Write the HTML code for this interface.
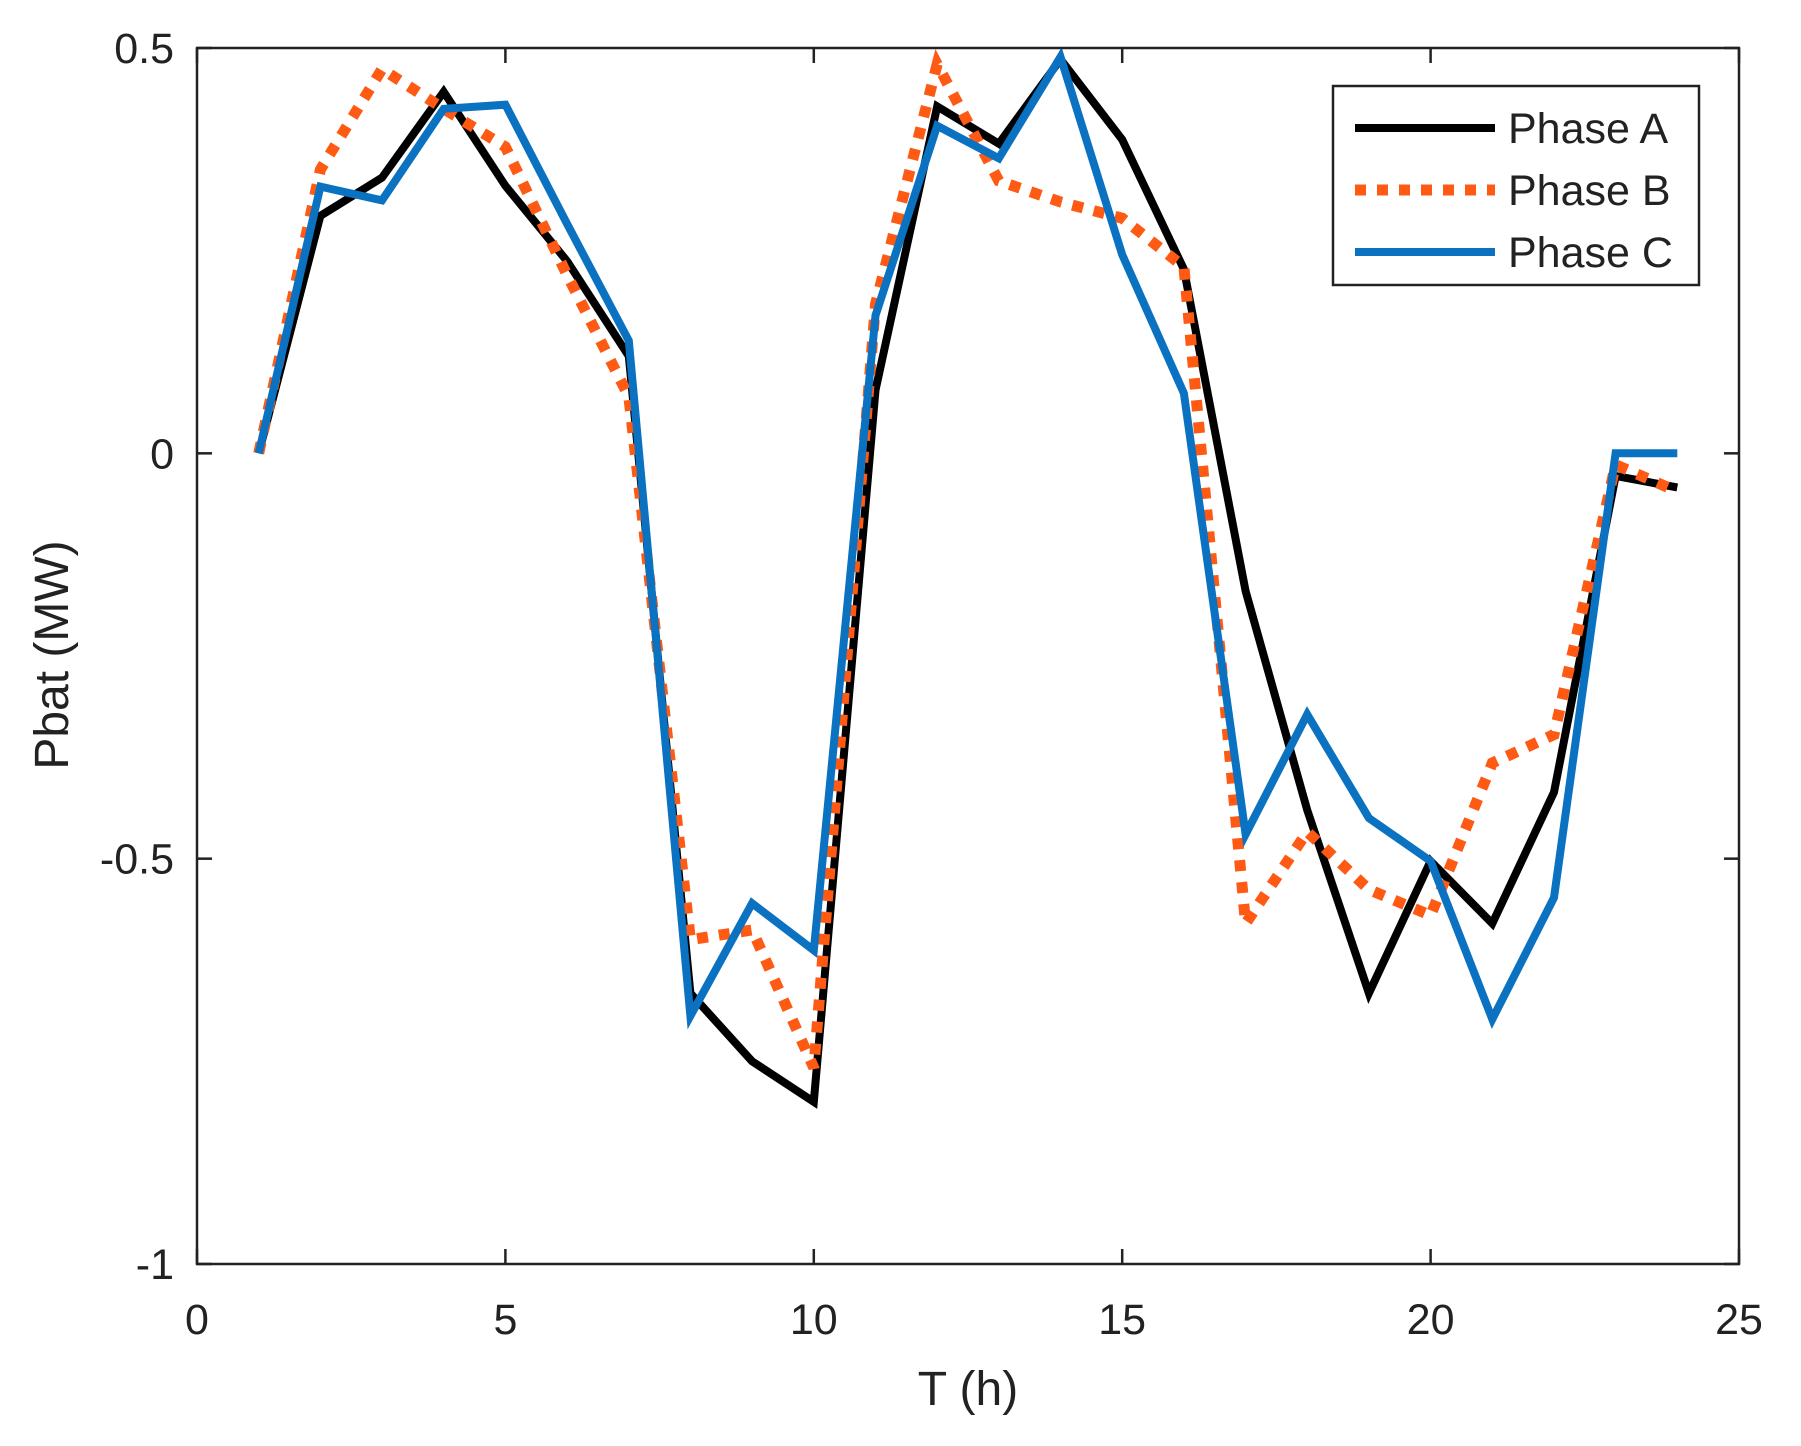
<!DOCTYPE html>
<html><head><meta charset="utf-8"><style>
html,body{margin:0;padding:0;background:#fff;}
svg{display:block;font-family:"Liberation Sans",Arial,sans-serif;}
</style></head><body>
<svg id="chart" width="1801" height="1446" viewBox="0 0 1801 1446" xmlns="http://www.w3.org/2000/svg">
<rect x="0" y="0" width="1801" height="1446" fill="#fff"/>
<g id="plot"></g>
</svg>
<script>
const hours=[1,2,3,4,5,6,7,8,9,10,11,12,13,14,15,16,17,18,19,20,21,22,23,24];
const phaseA=[0,0.293,0.34,0.446,0.33,0.237,0.12,-0.666,-0.75,-0.80,0.078,0.428,0.382,0.486,0.387,0.227,-0.17,-0.44,-0.666,-0.503,-0.58,-0.418,-0.028,-0.042];
const phaseB=[0,0.35,0.474,0.425,0.378,0.22,0.07,-0.60,-0.588,-0.758,0.184,0.48,0.336,0.31,0.29,0.23,-0.58,-0.467,-0.538,-0.57,-0.382,-0.347,-0.014,-0.047];
const phaseC=[0,0.329,0.312,0.425,0.43,0.283,0.139,-0.694,-0.555,-0.613,0.17,0.404,0.364,0.489,0.245,0.074,-0.47,-0.322,-0.45,-0.503,-0.698,-0.548,0,0];
const xTicks=[0,5,10,15,20,25];
const yTicks=[0.5,0,-0.5,-1];
const yTickLabels=["0.5","0","-0.5","-1"];
const seriesNames=["Phase A","Phase B","Phase C"];

const L=197,R=1739,T=48,B=1264;
const xs=v=>L+(v-0)/(25-0)*(R-L);
const ys=v=>T+(0.5-v)/(0.5-(-1))*(B-T);
const NS="http://www.w3.org/2000/svg";
const g=document.getElementById('plot');
function mk(tag,attrs,parent){const e=document.createElementNS(NS,tag);for(const k in attrs)e.setAttribute(k,attrs[k]);(parent||g).appendChild(e);return e;}

const styles=[{c:"#000000",d:null,w:8},{c:"#ff5a14",d:"11 11",w:11},{c:"#0a72c0",d:null,w:8}];
const data=[phaseA,phaseB,phaseC];
const names=["phase-a-line","phase-b-line","phase-c-line"];
data.forEach((s,i)=>{
  const pts=s.map((v,j)=>xs(hours[j]).toFixed(1)+","+ys(v).toFixed(1)).join(" ");
  const a={points:pts,fill:"none",stroke:styles[i].c,"stroke-width":styles[i].w,"stroke-linejoin":"miter"};
  if(styles[i].d)a["stroke-dasharray"]=styles[i].d;
  const p=mk('polyline',a);
  
  
});

const box=mk('rect',{x:L,y:T,width:R-L,height:B-T,fill:"none",stroke:"#222","stroke-width":2.5});



xTicks.forEach(t=>{
  const x=xs(t);
  mk('line',{x1:x,y1:B,x2:x,y2:B-15,stroke:"#222","stroke-width":2.5});
  mk('line',{x1:x,y1:T,x2:x,y2:T+15,stroke:"#222","stroke-width":2.5});
  const tx=mk('text',{x:x,y:1334,"font-size":43,"text-anchor":"middle",fill:"#222"});
  tx.textContent=t;
  
  
});
yTicks.forEach((t,i)=>{
  const y=ys(t);
  mk('line',{x1:L,y1:y,x2:L+15,y2:y,stroke:"#222","stroke-width":2.5});
  mk('line',{x1:R,y1:y,x2:R-15,y2:y,stroke:"#222","stroke-width":2.5});
  const tx=mk('text',{x:174,y:y+15,"font-size":43,"text-anchor":"end",fill:"#222"});
  tx.textContent=yTickLabels[i];
  
  
});
const xl=mk('text',{x:968,y:1405,"font-size":48,"text-anchor":"middle",fill:"#222"});
xl.textContent="T (h)";


const yl=mk('text',{x:0,y:0,"font-size":48,"text-anchor":"middle",fill:"#222",transform:"translate(68,655) rotate(-90)"});
yl.textContent="Pbat (MW)";



const lg=mk('g',{});


mk('rect',{x:1333,y:86,width:366,height:199,fill:"#fff",stroke:"#222","stroke-width":2.5},lg);
seriesNames.forEach((n,i)=>{
  const y=128+i*62;
  const a={x1:1355,y1:y,x2:1495,y2:y,stroke:styles[i].c,"stroke-width":styles[i].w};
  if(styles[i].d)a["stroke-dasharray"]=styles[i].d;
  mk('line',a,lg);
  const t=mk('text',{x:1508,y:y+15,"font-size":43,fill:"#222"},lg);
  t.textContent=n;
  
  
});
</script>
</body></html>
